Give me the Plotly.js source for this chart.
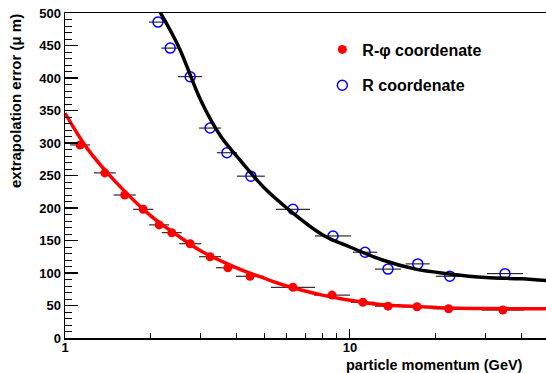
<!DOCTYPE html>
<html>
<head>
<meta charset="utf-8">
<script src="https://cdn.plot.ly/plotly-3.0.1.min.js"></script>
<style>
  html, body { margin: 0; padding: 0; background: #ffffff; }
  #chart { width: 546px; height: 373px; }
</style>
</head>
<body>
<div id="chart"></div>
<script>
// R-phi coordinate measurements: momentum (GeV), extrapolation error (um)
const rphiP     = [1.13, 1.38, 1.62, 1.88, 2.14, 2.37, 2.75, 3.23, 3.73, 4.46, 6.31, 8.65, 11.1, 13.6, 17.2, 22.2, 34.4];
const rphiErr   = [297, 254, 220, 198, 174, 162, 145, 125, 108, 95, 78, 66, 55, 49, 48, 45, 43];
const rphiBinLo = [0.088, 0.117, 0.138, 0.146, 0.166, 0.184, 0.234, 0.275, 0.345, 0.478, 1.03, 1.17, 1.03, 1.36, 1.97, 2.69, 5.37];
const rphiBinHi = [0.095, 0.128, 0.151, 0.158, 0.180, 0.199, 0.256, 0.300, 0.380, 0.535, 1.23, 1.36, 1.13, 1.51, 2.22, 3.06, 6.36];

// R coordinate measurements
const rP     = [2.12, 2.34, 2.75, 3.23, 3.70, 4.49, 6.31, 8.72, 11.3, 13.6, 17.3, 22.4, 35.0];
const rErr   = [486, 446, 402, 323, 285, 249, 198, 157, 132, 106, 114, 95, 99];
const rBinLo = [0.149, 0.164, 0.255, 0.275, 0.287, 0.481, 0.809, 1.18, 1.05, 1.36, 1.60, 2.40, 4.75];
const rBinHi = [0.160, 0.177, 0.281, 0.300, 0.311, 0.539, 0.928, 1.37, 1.15, 1.51, 1.76, 2.69, 5.50];

// Fitted resolution curves
const rphiFitP = [1, 1.2, 1.5, 2, 2.5, 3, 4, 5, 6, 8, 10, 13, 17, 22, 30, 40, 50];
const rphiFitE = [346, 291, 241, 188, 157, 134, 108, 92, 80, 66, 58, 51, 48.5, 46, 45.5, 45, 45];
const rFitP = [2.1, 2.5, 3, 3.5, 4, 5, 6, 8, 10, 13, 17, 22, 30, 40, 50];
const rFitE = [510, 449, 365, 312, 280, 231, 200, 159, 140, 120, 106, 99, 93, 91, 88];

// Axis ticks
const xMajorTicks = [1, 10];
const xMajorText  = ['1', '10'];
const xMinorTicks = [2, 3, 4, 5, 6, 7, 8, 9, 20, 30, 40];

const FONT = 'Liberation Sans, Arial, Helvetica, sans-serif';

const traces = [
  {
    x: rphiP, y: rphiErr, type: 'scatter', mode: 'markers',
    name: 'R-\u03c6 coordenate', legendgroup: 'rphi',
    marker: { color: '#ff0000', size: 9, symbol: 'circle' },
    error_x: { type: 'data', symmetric: false, array: rphiBinHi, arrayminus: rphiBinLo,
               color: '#000000', thickness: 1, width: 0 }
  },
  {
    x: rP, y: rErr, type: 'scatter', mode: 'markers',
    name: 'R coordenate', legendgroup: 'r',
    marker: { color: '#0000ff', size: 10, symbol: 'circle-open',
              line: { color: '#0000ff', width: 1.5 } },
    error_x: { type: 'data', symmetric: false, array: rBinHi, arrayminus: rBinLo,
               color: '#000000', thickness: 1, width: 0 }
  },
  {
    x: rphiFitP, y: rphiFitE, type: 'scatter', mode: 'lines', showlegend: false,
    line: { color: '#ff0000', width: 3.5, shape: 'spline' }, hoverinfo: 'skip'
  },
  {
    x: rFitP, y: rFitE, type: 'scatter', mode: 'lines', showlegend: false,
    line: { color: '#000000', width: 3.5, shape: 'spline' }, hoverinfo: 'skip'
  }
];

const layout = {
  width: 546, height: 373,
  margin: { l: 65, r: 0, t: 13, b: 35, pad: 0 },
  paper_bgcolor: '#ffffff', plot_bgcolor: '#ffffff',
  font: { family: FONT, color: '#000000', size: 13, weight: 'bold' },
  showlegend: true,
  legend: {
    x: 0.535, y: 0.94, xanchor: 'left', yanchor: 'top',
    bgcolor: 'rgba(0,0,0,0)', borderwidth: 0,
    font: { family: FONT, size: 16, color: '#000000', weight: 'bold' },
    tracegroupgap: 12, itemsizing: 'trace'
  },
  xaxis: {
    type: 'log', range: [0, 1.688],
    showgrid: false, zeroline: false,
    showline: true, linecolor: '#000000', linewidth: 1.5, mirror: true,
    ticks: 'inside', ticklen: 9, tickwidth: 1, tickcolor: '#000000',
    tickvals: xMajorTicks, ticktext: xMajorText, ticklabelstandoff: -3,
    tickfont: { family: FONT, size: 13, weight: 'bold' },
    minor: { tickvals: xMinorTicks, ticks: 'inside', ticklen: 5, tickwidth: 1, tickcolor: '#000000', showgrid: false }
  },
  yaxis: {
    range: [0, 500],
    showgrid: false, zeroline: false,
    showline: true, linecolor: '#000000', linewidth: 1.5, mirror: false,
    ticks: 'inside', ticklen: 13, tickwidth: 1.2, tickcolor: '#000000',
    dtick: 50, tick0: 0,
    tickfont: { family: FONT, size: 13, weight: 'bold' },
    minor: { dtick: 10, ticks: 'inside', ticklen: 7, tickwidth: 1, tickcolor: '#000000', showgrid: false }
  },
  annotations: [
    {
      text: 'extrapolation error (\u03bc m)', textangle: -90,
      xref: 'paper', yref: 'paper', x: -0.104, y: 1.003,
      xanchor: 'center', yanchor: 'top', showarrow: false,
      font: { family: FONT, size: 15, weight: 'bold', color: '#000000' }
    },
    {
      text: 'particle momentum (GeV)',
      xref: 'paper', yref: 'paper', x: 0.58, y: -0.084,
      xanchor: 'left', yanchor: 'middle', showarrow: false,
      font: { family: FONT, size: 14.5, weight: 'bold', color: '#000000' }
    }
  ]
};

Plotly.newPlot('chart', traces, layout, { staticPlot: true, displayModeBar: false });
</script>
</body>
</html>
